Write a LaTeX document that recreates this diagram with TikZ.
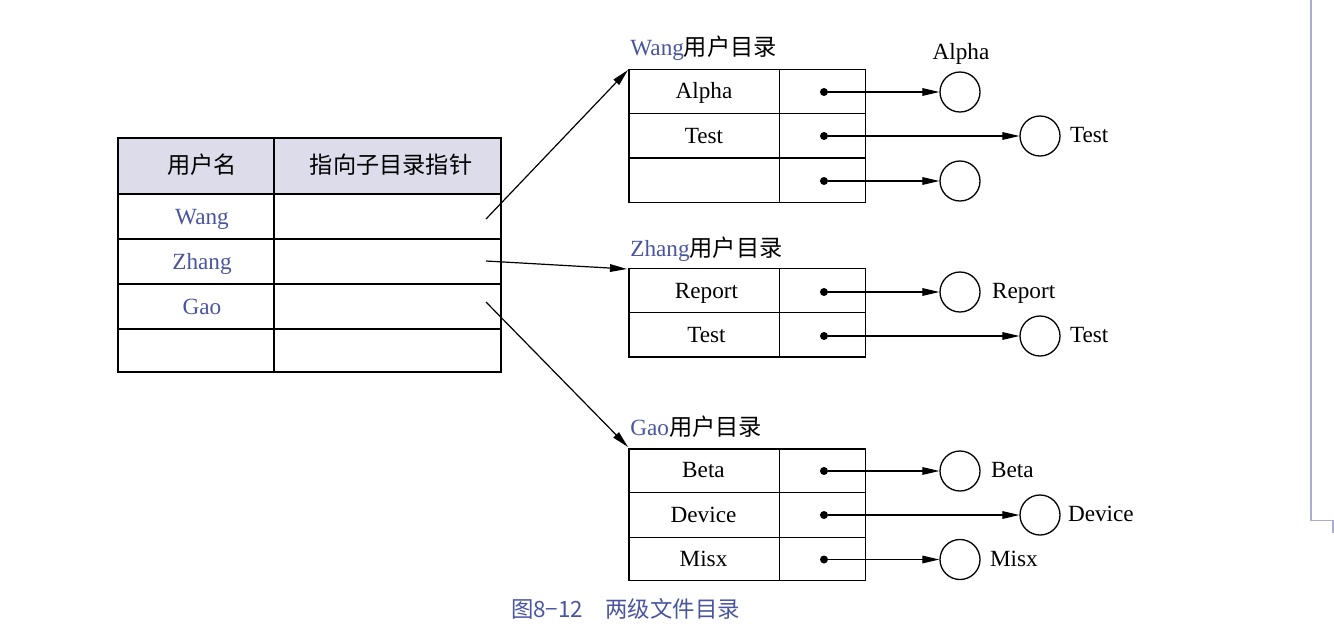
\documentclass[tikz,border=0pt]{standalone}
\usepackage{fontspec}
\setmainfont{Liberation Serif}
\newfontfamily\cjk{Noto Sans CJK SC}
\usetikzlibrary{arrows.meta}
\definecolor{headfill}{HTML}{DCDCEB}
\definecolor{nameblue}{HTML}{4A55A2}
\definecolor{edgeblue}{HTML}{A9ADD2}
\begin{document}
\begin{tikzpicture}[x=0.5pt,y=-0.5pt,
		tab/.style={line width=0.8pt},
		ptr/.style={line width=0.6pt,-{Triangle[length=8.5pt,width=3.8pt]}},
		file/.style={draw,circle,line width=0.65pt,minimum size=20pt,inner sep=0pt},
		dot/.style={fill,circle,inner sep=0pt,minimum size=4pt},
		entry/.style={font=\fontsize{11.6}{13}\selectfont,text height=7.6pt,text depth=0pt},
		hz/.style={font=\cjk\fontsize{11.6}{13}\selectfont,text height=7.6pt,text depth=0pt},
		title/.style={anchor=base west,inner sep=0pt,font=\fontsize{11.6}{13}\selectfont}]
		\useasboundingbox (0,0) rectangle (1334,628);
		\fill[color=white] (0,0) rectangle (1334,628);
		\draw[color=edgeblue,line width=0.6pt] (1311,0) -- (1311,520.5) -- (1333,520.5) -- (1333,533);

		\fill[color=headfill] (118,138) rectangle (501,194);
		\draw[tab] (118,138) rectangle (501,372);
		\draw[tab] (274,138) -- (274,372);
		\draw[tab] (118,194) -- (501,194) (118,239) -- (501,239) (118,284) -- (501,284) (118,329) -- (501,329);
		\node[hz] (hname) at (202,166) {用户名};
		\node[hz] (hptr) at (391,166) {指向子目录指针};
		\node[entry,text=nameblue] (uwang) at (202,217) {Wang};
		\node[entry,text=nameblue] (uzhang) at (202,262) {Zhang};
		\node[entry,text=nameblue] (ugao) at (202,307) {Gao};
		\coordinate (pwang) at (486,219);
		\coordinate (pzhang) at (486,261);
		\coordinate (pgao) at (486,302);

		\draw[tab] (629,69.5) rectangle (865.5,202.5);
		\draw[tab] (779.5,69.5) -- (779.5,202.5) (629,113.5) -- (865.5,113.5) (629,158) -- (865.5,158);
		\node[title] (twang) at (630,55) {\textcolor{nameblue}{Wang}{\cjk 用户目录}};
		\coordinate (dwang) at (628,70);
		\node[entry] (wa) at (704,91) {Alpha};
		\node[entry] (wt) at (704,136) {Test};
		\node[dot] (wad) at (824,92) {};
		\node[dot] (wtd) at (824,136) {};
		\node[dot] (wxd) at (824,181) {};
		\node[file] (wac) at (960,92) {};
		\node[file] (wtc) at (1040,136) {};
		\node[file] (wxc) at (960,181) {};
		\node[entry] (wal) at (961,52) {Alpha};
		\node[entry,anchor=west] (wtl) at (1063,135) {Test};
		\draw[ptr] (wad) -- (wac);
		\draw[ptr] (wtd) -- (wtc);
		\draw[ptr] (wxd) -- (wxc);

		\draw[tab] (629,268.5) rectangle (865.5,357);
		\draw[tab] (779.5,268.5) -- (779.5,357) (629,312.5) -- (865.5,312.5);
		\node[title] (tzhang) at (630,256.5) {\textcolor{nameblue}{Zhang}{\cjk 用户目录}};
		\coordinate (dzhang) at (627,269);
		\node[entry] (zr) at (706.5,291) {Report};
		\node[entry] (zt) at (706.5,335) {Test};
		\node[dot] (zrd) at (824,292) {};
		\node[dot] (ztd) at (824,336) {};
		\node[file] (zrc) at (960,292) {};
		\node[file] (ztc) at (1040,336) {};
		\node[entry,anchor=west] (zrl) at (985,291) {Report};
		\node[entry,anchor=west] (ztl) at (1063,334.5) {Test};
		\draw[ptr] (zrd) -- (zrc);
		\draw[ptr] (ztd) -- (ztc);

		\draw[tab] (629,449) rectangle (865.5,580.5);
		\draw[tab] (779.5,449) -- (779.5,580.5) (629,492.5) -- (865.5,492.5) (629,537.5) -- (865.5,537.5);
		\node[title] (tgao) at (630,435) {\textcolor{nameblue}{Gao}{\cjk 用户目录}};
		\coordinate (dgao) at (628,447);
		\node[entry] (gb) at (703.5,470) {Beta};
		\node[entry] (gd) at (703.5,515) {Device};
		\node[entry] (gm) at (703.5,559) {Misx};
		\node[dot] (gbd) at (824,471) {};
		\node[dot] (gdd) at (824,515) {};
		\node[dot] (gmd) at (824,559.5) {};
		\node[file] (gbc) at (960,471) {};
		\node[file] (gdc) at (1040,515) {};
		\node[file] (gmc) at (960,559.5) {};
		\node[entry,anchor=west] (gbl) at (984,470) {Beta};
		\node[entry,anchor=west] (gdl) at (1061,514) {Device};
		\node[entry,anchor=west] (gml) at (983,558.5) {Misx};
		\draw[ptr] (gbd) -- (gbc);
		\draw[ptr] (gdd) -- (gdc);
		\draw[ptr] (gmd) -- (gmc);

		\draw[ptr] (pwang) -- (dwang);
		\draw[ptr] (pzhang) -- (dzhang);
		\draw[ptr] (pgao) -- (dgao);

		\node[font=\cjk\fontsize{11.2}{12}\selectfont,text=nameblue] (cap) at (625.5,609) {图8−12\quad 两级文件目录};
	\end{tikzpicture}
\end{document}
